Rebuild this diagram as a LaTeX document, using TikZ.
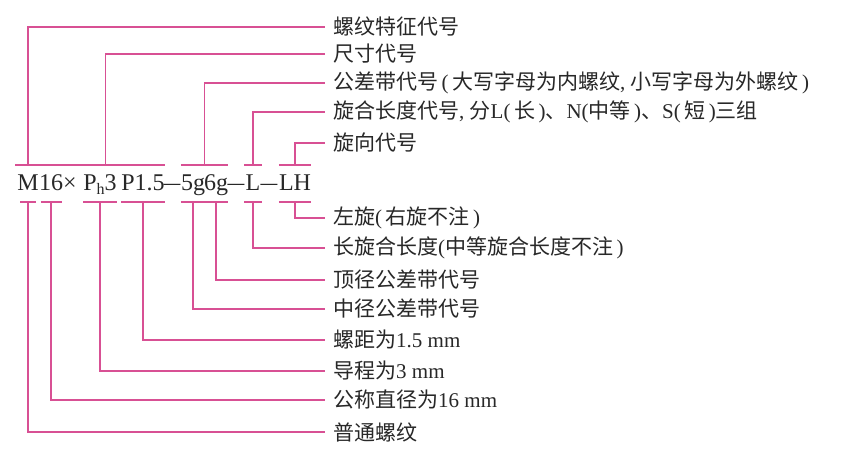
\documentclass[tikz,border=0pt]{standalone}
\usepackage{fontspec}
\setmainfont{Liberation Serif}
\newfontfamily\cjk{Noto Sans CJK SC}
\usetikzlibrary{positioning,calc}
\definecolor{leadpink}{RGB}{216,80,148}
\definecolor{inkgray}{RGB}{40,40,40}
\newcommand{\dashbar}{\scalebox{0.7}[1]{—}}

\begin{document}
\begin{tikzpicture}[x=1pt,y=-1pt,
						part/.style={anchor=base, inner sep=0pt, font=\fontsize{24}{24}\selectfont, text=inkgray},
						note/.style={anchor=west, inner xsep=8pt, inner ysep=0pt, font=\fontsize{21}{23}\selectfont, text=inkgray},
						lead/.style={draw=leadpink, line width=1.2pt}
					]
					\fill[white] (0,0) rectangle (868,449);
					\useasboundingbox (0,0) rectangle (868,449);
					\coordinate (upper) at (0,165);
					\coordinate (lower) at (0,202);
					% the thread code
					\node[part] (m) at (28,191) {M};
					\node[part] (dia) at (51,191) {16};
					\node[part] (cross) at (70,191) {×};
					\node[part] (lead) at (100,191) {P\raisebox{-4pt}{\fontsize{16}{16}\selectfont h}3};
					\node[part] (pitch) at (143,191) {P1.5};
					\node[part] (dasha) at (172,191) {\dashbar};
					\node[part] (pd) at (193,191) {5g};
					\node[part] (cd) at (216,191) {6g};
					\node[part] (dashb) at (236,191) {\dashbar};
					\node[part] (len) at (253,191) {L};
					\node[part] (dashc) at (269,191) {\dashbar};
					\node[part] (hand) at (295,191) {LH};
					% notes above
					\node[note] (feat) at (325,27) {\cjk 螺纹特征代号};
					\node[note] (size) at (325,54) {\cjk 尺寸代号};
					\node[note] (tol) at (325,83) {{\cjk 公差带代号}\,(\,{\cjk 大写字母为内螺纹}, {\cjk 小写字母为外螺纹}\,)};
					\node[note] (engage) at (325,112) {{\cjk 旋合长度代号}, {\cjk 分}L(\,{\cjk 长}\,){\cjk 、}N({\cjk 中等}\,){\cjk 、}S(\,{\cjk 短}\,){\cjk 三组}};
					\node[note] (handnote) at (325,143) {\cjk 旋向代号};
					% notes below
					\node[note] (lefthand) at (325,218) {{\cjk 左旋}(\,{\cjk 右旋不注}\,)};
					\node[note] (longlen) at (325,248) {{\cjk 长旋合长度}({\cjk 中等旋合长度不注}\,)};
					\node[note] (crest) at (325,280) {\cjk 顶径公差带代号};
					\node[note] (pitchtol) at (325,309) {\cjk 中径公差带代号};
					\node[note] (pitchval) at (325,340) {{\cjk 螺距为}1.5 mm};
					\node[note] (leadval) at (325,371) {{\cjk 导程为}3 mm};
					\node[note] (nominal) at (325,400) {{\cjk 公称直径为}16 mm};
					\node[note] (plain) at (325,432) {\cjk 普通螺纹};
					\begin{scope}[lead]
					% brackets above the code
					\draw ([xshift=-2pt]m.west |- upper) -- ([xshift=2pt]m.east |- upper);
					\draw (m.center |- upper) |- (feat);
					\draw ([xshift=-2pt]dia.west |- upper) -- (pitch.east |- upper);
					\draw ($(dia.west |- upper)!0.53!(pitch.east |- upper)$) |- (size);
					\draw (pd.west |- upper) -- (cd.east |- upper);
					\draw ($(pd.west |- upper)!0.5!(cd.east |- upper)$) |- (tol);
					\draw ([xshift=-1pt]len.west |- upper) -- ([xshift=1pt]len.east |- upper);
					\draw (len.center |- upper) |- (engage);
					\draw (hand.west |- upper) -- (hand.east |- upper);
					\draw (hand.center |- upper) |- (handnote);
					% brackets below the code
					\draw (hand.west |- lower) -- (hand.east |- lower);
					\draw (hand.center |- lower) |- (lefthand);
					\draw ([xshift=-1pt]len.west |- lower) -- ([xshift=1pt]len.east |- lower);
					\draw (len.center |- lower) |- (longlen);
					\draw (cd.west |- lower) -- (cd.east |- lower);
					\draw (cd.center |- lower) |- (crest);
					\draw (pd.west |- lower) -- (pd.east |- lower);
					\draw (pd.center |- lower) |- (pitchtol);
					\draw (pitch.west |- lower) -- (pitch.east |- lower);
					\draw (pitch.center |- lower) |- (pitchval);
					\draw (lead.west |- lower) -- (lead.east |- lower);
					\draw (lead.center |- lower) |- (leadval);
					\draw ([xshift=2pt]dia.west |- lower) -- ([xshift=-1pt]dia.east |- lower);
					\draw (dia.center |- lower) |- (nominal);
					\draw ([xshift=3pt]m.west |- lower) -- ([xshift=-3pt]m.east |- lower);
					\draw (m.center |- lower) |- (plain);
					\end{scope}
					\end{tikzpicture}
\end{document}
